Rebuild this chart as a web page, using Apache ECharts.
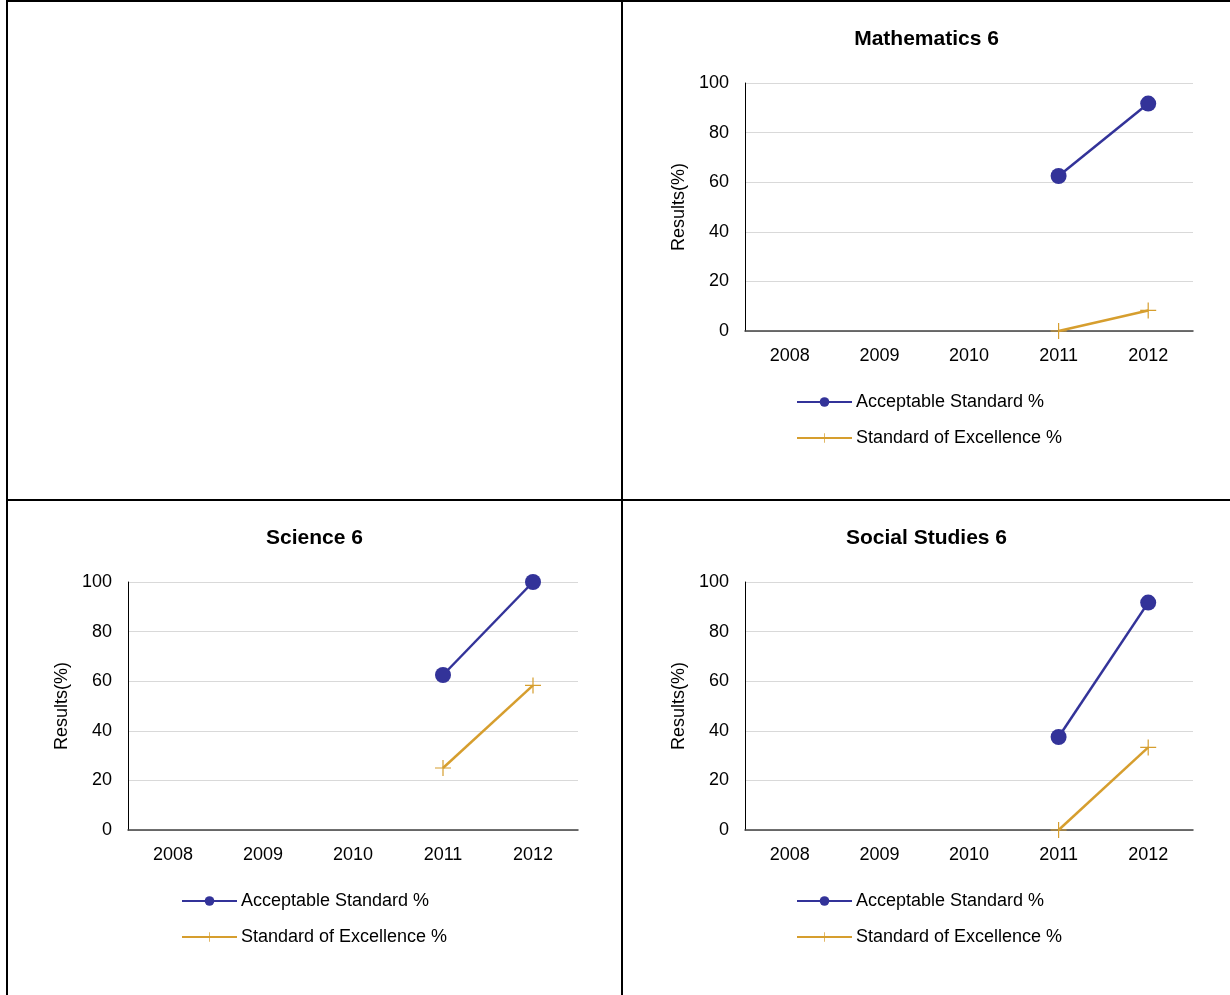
<!DOCTYPE html>
<html><head><meta charset="utf-8">
<script src="https://cdn.jsdelivr.net/npm/echarts@6/dist/echarts.min.js"></script>
<style>
html,body{margin:0;padding:0;background:#fff;width:1230px;height:995px;overflow:hidden;position:relative;font-family:"Liberation Sans",Arial,sans-serif}
.ln{position:absolute;background:#000}
.cell{position:absolute}
</style></head><body>
<div class="ln" style="left:6px;top:0;width:2px;height:995px"></div>
<div class="ln" style="left:6px;top:0;width:1224px;height:2px"></div>
<div class="ln" style="left:621px;top:0;width:2px;height:995px"></div>
<div class="ln" style="left:6px;top:499px;width:1224px;height:2px"></div>
<div id="math" class="cell" style="left:623px;top:2px;width:607px;height:497px"></div>
<div id="sci" class="cell" style="left:8px;top:501px;width:613px;height:494px"></div>
<div id="soc" class="cell" style="left:623px;top:501px;width:607px;height:494px"></div>
<script>
const years = ['2008', '2009', '2010', '2011', '2012'];
const seriesNames = ['Acceptable Standard %', 'Standard of Excellence %'];
const yAxisName = 'Results(%)';
const mathAcceptable = [null, null, null, 62.5, 91.7];
const mathExcellence = [null, null, null, 0, 8.3];
const sciAcceptable = [null, null, null, 62.5, 100];
const sciExcellence = [null, null, null, 25, 58.3];
const socAcceptable = [null, null, null, 37.5, 91.7];
const socExcellence = [null, null, null, 0, 33.3];

const BLUE = '#333399';
const ORANGE = '#D69E2E';
const FONT = '"Liberation Sans", Arial, sans-serif';
const PLUS = 'path://M7.4,0h1.2v16h-1.2z M0,7.4h16v1.2h-16z';

function makeOption(title, acc, exc, gridLeft, gridWidth) {
  return {
    animation: false,
    textStyle: { fontFamily: FONT },
    title: {
      text: title, left: 'center', top: 27, padding: 0,
      textStyle: { fontFamily: FONT, fontSize: 21, fontWeight: 'bold', color: '#000' }
    },
    legend: {
      orient: 'vertical', left: 173, top: 391, padding: 0,
      itemWidth: 55, itemHeight: 12, itemGap: 18,
      data: seriesNames,
      textStyle: { fontFamily: FONT, fontSize: 18, color: '#000', lineHeight: 18, padding: [0, 0, 0, -1] }
    },
    grid: { left: gridLeft, top: 81, width: gridWidth, height: 248, containLabel: false },
    xAxis: {
      type: 'category', data: years, boundaryGap: true,
      axisTick: { show: false },
      axisLine: { lineStyle: { color: '#404040', width: 1.5 } },
      axisLabel: { fontSize: 18, color: '#000', margin: 16, fontFamily: FONT },
      splitLine: { show: false }
    },
    yAxis: {
      type: 'value', min: 0, max: 100, interval: 20,
      name: yAxisName, nameLocation: 'middle', nameGap: 57,
      nameTextStyle: { fontSize: 18, color: '#000', fontFamily: FONT },
      axisLine: { show: true, lineStyle: { color: '#000', width: 1 } },
      axisTick: { show: false },
      axisLabel: { fontSize: 18, color: '#000', margin: 16, fontFamily: FONT },
      splitLine: { show: true, lineStyle: { color: '#d9d9d9', width: 1 } }
    },
    series: [
      {
        name: seriesNames[0], type: 'line', data: acc,
        symbol: 'circle', symbolSize: 16, showAllSymbol: true,
        connectNulls: false,
        lineStyle: { color: BLUE, width: 2.5 },
        itemStyle: { color: BLUE }
      },
      {
        name: seriesNames[1], type: 'line', data: exc,
        symbol: PLUS, symbolSize: 16, showAllSymbol: true,
        connectNulls: false,
        lineStyle: { color: ORANGE, width: 2.5 },
        itemStyle: { color: ORANGE }
      }
    ]
  };
}

echarts.init(document.getElementById('math'), null, { renderer: 'canvas' })
  .setOption(makeOption('Mathematics 6', mathAcceptable, mathExcellence, 122, 448));
echarts.init(document.getElementById('sci'), null, { renderer: 'canvas' })
  .setOption(makeOption('Science 6', sciAcceptable, sciExcellence, 120, 450));
echarts.init(document.getElementById('soc'), null, { renderer: 'canvas' })
  .setOption(makeOption('Social Studies 6', socAcceptable, socExcellence, 122, 448));
</script>
</body></html>
